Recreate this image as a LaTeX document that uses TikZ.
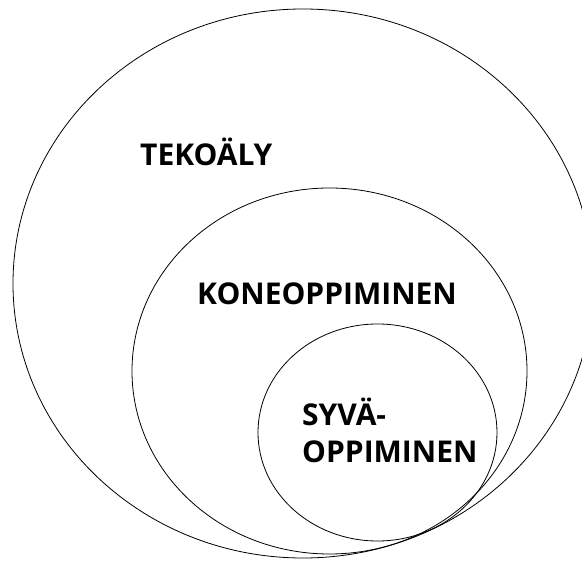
\documentclass[tikz,border=0pt]{standalone}
\usepackage{fontspec}
\setmainfont{Open Sans}
\usetikzlibrary{shapes.geometric}

\begin{document}
\begin{tikzpicture}[
    x=1pt, y=-1pt,
    ring/.style={ellipse, draw, line width=0.8pt, inner sep=0pt},
    set_label/.style={font=\bfseries\fontsize{30}{37}\selectfont, inner sep=0pt, anchor=base west, align=left}
    ]
    \useasboundingbox (0,0) rectangle (582,561);
    \clip (0,0) rectangle (582,561);
    % Nested sets
    \node[ring, minimum width=580pt, minimum height=549pt] (ai) at (303,283.5) {};
    \node[ring, minimum width=395pt, minimum height=366pt] (ml) at (329.5,371) {};
    \node[ring, minimum width=239pt, minimum height=217pt] (dl) at (377.5,432.5) {};

    % Labels
    \node[set_label] (ai_text) at (140,166) {TEKOÄLY};
    \node[set_label] (ml_text) at (197,305) {KONEOPPIMINEN};
    \node[set_label] (dl_text) at (302,463) {SYVÄ-\\OPPIMINEN};
\end{tikzpicture}
\end{document}
